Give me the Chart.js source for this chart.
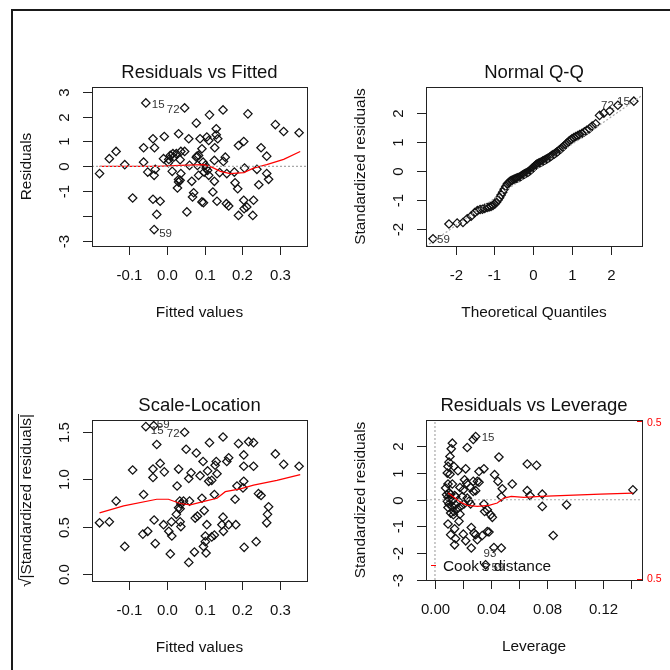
<!DOCTYPE html>
<html>
<head>
<meta charset="utf-8">
<script src="https://cdn.jsdelivr.net/npm/chart.js@4.4.1/dist/chart.umd.min.js"></script>
<style>
  html, body { margin: 0; padding: 0; background: #fff; }
  #page { position: relative; width: 670px; height: 670px; overflow: hidden; background: #fff; }
  #page canvas { position: absolute; left: 0; top: 0; }
  #frame { position: absolute; left: 11px; top: 9px; width: 720px; height: 720px;
           border-top: 2px solid #1a1a1a; border-left: 2px solid #1a1a1a; }
</style>
</head>
<body>
<div id="page">
  <div id="frame"></div>
  <canvas id="p1" width="670" height="670"></canvas>
  <canvas id="p2" width="670" height="670"></canvas>
  <canvas id="p3" width="670" height="670"></canvas>
  <canvas id="p4" width="670" height="670"></canvas>
</div>
<script>
// ---- Residuals vs Fitted ----
const fittedX = [-0.179,-0.153,-0.135,-0.112,-0.091,-0.062,-0.062,-0.056,-0.051,-0.037,-0.033,-0.031,-0.034,-0.037,-0.027,-0.018,-0.034,-0.007,-0.009,0.005,
  0.009,0.014,0.004,0.016,0.025,0.031,0.037,0.035,0.037,0.035,0.031,0.028,0.047,0.047,0.058,0.053,0.060,0.066,0.068,0.071,
  0.078,0.078,0.084,0.081,0.084,0.088,0.093,0.093,0.097,0.096,0.099,0.104,0.102,0.106,0.111,0.113,0.108,0.111,0.122,0.126,
  0.127,0.126,0.131,0.131,0.135,0.133,0.140,0.149,0.155,0.150,0.159,0.158,0.164,0.179,0.181,0.188,0.190,0.190,0.204,0.204,
  0.205,0.206,0.215,0.212,0.228,0.230,0.239,0.244,0.250,0.265,0.265,0.270,0.288,0.310,0.351,0.018,0.080,0.031];
const residY = [-0.29,0.31,0.60,0.07,-1.27,0.75,0.17,2.55,-0.23,1.11,0.75,-0.12,-0.36,-1.32,-1.93,-1.40,-2.54,1.20,0.31,0.28,
  0.44,-0.20,0.15,0.51,0.51,1.31,0.60,0.27,-0.29,-0.56,-0.63,-0.87,2.35,0.60,1.11,-1.83,0.04,-0.60,-1.23,-1.06,
  1.74,0.37,0.44,0.04,-0.36,1.11,0.71,-1.43,-1.46,0.17,-0.23,-0.07,0.04,1.18,1.04,2.07,-0.16,-0.36,-1.03,-0.60,
  0.75,0.24,1.51,1.27,1.11,-1.40,-0.25,2.27,0.37,0.20,-0.29,-1.50,-1.59,-0.23,-0.66,-0.90,0.84,-1.97,1.00,-1.36,
  -1.70,-0.07,2.11,-1.63,-1.97,-1.36,-0.12,-0.74,0.75,0.41,-0.29,-0.52,1.68,1.40,1.35,0.37,0.41,-0.53];
const rfSmoothX = [-0.179,-0.115,-0.027,0.035,0.097,0.119,0.142,0.168,0.204,0.230,0.265,0.310,0.354];
const rfSmoothY = [0,0,0,0.04,0.07,-0.03,-0.20,-0.29,-0.25,-0.07,0.07,0.28,0.60];

// ---- Normal Q-Q ----
const qqTheo = [-2.58,-2.17,-1.96,-1.81,-1.70,-1.60,-1.51,-1.44,-1.37,-1.31,-1.25,-1.19,-1.14,-1.09,-1.04,-0.99,-0.95,-0.91,-0.87,-0.83,
  -0.79,-0.75,-0.71,-0.67,-0.64,-0.60,-0.57,-0.54,-0.50,-0.47,-0.44,-0.41,-0.37,-0.34,-0.31,-0.28,-0.25,-0.23,-0.20,-0.17,
  -0.14,-0.11,-0.08,-0.06,-0.04,-0.01,0.01,0.04,0.06,0.08,0.11,0.14,0.17,0.20,0.23,0.25,0.28,0.31,0.34,0.37,
  0.41,0.44,0.47,0.50,0.54,0.57,0.60,0.64,0.67,0.71,0.75,0.79,0.83,0.87,0.91,0.95,0.99,1.04,1.09,1.14,
  1.19,1.25,1.31,1.37,1.44,1.51,1.60,1.70,1.81,1.96,2.17,2.58];
const qqStd = [-2.33,-1.82,-1.79,-1.77,-1.64,-1.55,-1.43,-1.36,-1.32,-1.31,-1.28,-1.25,-1.23,-1.21,-1.18,-1.13,-1.07,-0.99,-0.91,-0.82,
  -0.72,-0.62,-0.52,-0.44,-0.39,-0.35,-0.32,-0.30,-0.28,-0.26,-0.24,-0.23,-0.21,-0.19,-0.16,-0.13,-0.11,-0.09,-0.07,-0.05,
  -0.03,0.00,0.03,0.06,0.09,0.12,0.15,0.18,0.21,0.24,0.26,0.28,0.30,0.32,0.34,0.36,0.38,0.40,0.42,0.45,
  0.48,0.51,0.54,0.57,0.60,0.63,0.66,0.70,0.74,0.78,0.83,0.88,0.93,0.98,1.03,1.08,1.12,1.16,1.20,1.23,
  1.27,1.31,1.36,1.41,1.47,1.56,1.64,1.93,2.01,2.08,2.28,2.42];
const qqLineX = [-2.76, 2.79];
const qqLineY = [-2.59, 2.62];

// ---- Scale-Location ----
const slFitted = [-0.179,-0.153,-0.135,-0.112,-0.091,-0.062,-0.064,-0.056,-0.035,-0.051,-0.037,-0.037,-0.027,-0.018,-0.007,-0.034,-0.031,-0.009,0.005,0.009,
  0.013,0.012,0.025,0.027,0.031,0.034,0.037,0.035,0.035,0.037,0.047,0.044,0.051,0.058,0.064,0.058,0.060,0.073,0.078,0.075,
  0.081,0.088,0.093,0.096,0.099,0.097,0.102,0.104,0.106,0.108,0.113,0.111,0.119,0.126,0.128,0.131,0.126,0.133,0.149,0.149,
  0.150,0.159,0.164,0.164,0.146,0.183,0.181,0.186,0.190,0.204,0.204,0.204,0.205,0.202,0.217,0.230,0.230,0.237,0.243,0.250,
  0.270,0.267,0.265,0.288,0.310,0.351,0.102,0.119,0.031];
const slSqrt = [0.54,0.55,0.77,0.29,1.10,0.84,0.42,1.56,1.57,0.45,1.11,1.02,1.37,1.17,1.08,0.57,0.32,0.52,0.45,0.21,
  0.40,0.55,0.63,0.93,1.11,0.77,0.74,0.69,0.55,0.50,1.50,0.77,1.32,1.01,1.07,0.12,0.77,0.23,1.28,0.59,
  0.61,1.04,0.80,1.19,0.67,0.29,0.40,0.22,0.52,1.09,1.39,0.98,0.99,0.84,1.15,1.19,0.41,1.06,1.45,0.60,
  0.45,1.19,1.23,0.52,0.52,0.52,0.79,0.93,1.38,1.26,1.14,0.98,0.28,0.91,1.40,1.39,1.14,0.34,0.85,0.83,
  0.71,0.63,0.54,1.27,1.16,1.14,0.34,0.39,0.70];
const slSmoothX = [-0.179,-0.115,-0.027,0.004,0.035,0.062,0.101,0.133,0.155,0.195,0.230,0.292,0.354];
const slSmoothY = [0.645,0.72,0.79,0.79,0.745,0.73,0.77,0.80,0.87,0.90,0.94,0.99,1.05];

// ---- Residuals vs Leverage ----
const levX = [0.0124,0.0116,0.0107,0.0100,0.0093,0.0088,0.0107,0.0135,0.0164,0.0093,0.0124,0.0083,0.0093,0.0112,0.0107,0.0124,0.0140,0.0088,0.0100,0.0093,
  0.0124,0.0147,0.0159,0.0135,0.0112,0.0178,0.0171,0.0093,0.0140,0.0112,0.0147,0.0140,0.0202,0.0219,0.0178,0.0211,0.0219,0.0226,0.0202,0.0230,
  0.0254,0.0273,0.0273,0.0290,0.0242,0.0230,0.0254,0.0273,0.0290,0.0302,0.0314,0.0259,0.0278,0.0290,0.0302,0.0259,0.0314,0.0349,0.0337,0.0373,
  0.0385,0.0361,0.0349,0.0354,0.0373,0.0397,0.0409,0.0420,0.0473,0.0425,0.0449,0.0456,0.0480,0.0473,0.0551,0.0658,0.0724,0.0658,0.0677,0.0765,
  0.0765,0.0843,0.0938,0.1411,0.0076,0.0100,0.0147,0.0131,0.0183,0.0207,0.0195];
const levStd = [2.12,1.91,1.62,1.41,1.25,1.00,0.96,1.25,1.09,0.59,0.59,0.19,0.09,0.21,0.06,-0.04,0.16,-0.06,-0.16,-0.29,
  -0.25,-0.19,-0.34,-0.44,-0.50,-0.54,-0.81,-0.91,-1.09,-1.31,-1.46,-1.69,-1.29,-1.54,0.46,0.75,1.16,0.62,0.37,1.96,
  0.46,0.69,2.26,2.37,-0.06,0.06,-0.16,0.31,0.34,0.69,0.66,-1.04,-1.25,-1.31,-1.50,-1.81,1.06,1.16,-1.34,-1.19,
  -1.21,-2.44,-0.16,-0.44,-0.38,-0.56,-0.66,-1.79,-1.81,0.94,0.69,1.60,0.41,0.11,0.59,1.34,1.29,0.34,0.16,0.21,
  -0.25,-1.34,-0.19,0.37,0.44,0.25,0.12,-0.56,-0.25,-0.16,0.12];
const levSmoothX = [0.0093,0.0135,0.0183,0.0230,0.0302,0.0385,0.0444,0.0492,0.0544,0.0634,0.0753,0.0943,0.118,0.1411];
const levSmoothY = [0.25,0.09,-0.09,-0.21,-0.25,-0.21,-0.125,0.06,0.125,0.09,0.125,0.16,0.21,0.25];

// ---- axes ----
const fitTicks = [-0.1, 0, 0.1, 0.2, 0.3];
const fitLabels = ['-0.1', '0.0', '0.1', '0.2', '0.3'];
const residTicks = [-3, -2, -1, 0, 1, 2, 3];
const residLabels = ['-3', '', '-1', '0', '1', '2', '3'];
const qqTicks = [-2, -1, 0, 1, 2];
const qqLabels = ['-2', '-1', '0', '1', '2'];
const slTicks = [0, 0.5, 1, 1.5];
const slLabels = ['0.0', '0.5', '1.0', '1.5'];
const levTicks = [0, 0.02, 0.04, 0.06, 0.08, 0.10, 0.12, 0.14];
const levLabels = ['0.00', '', '0.04', '', '0.08', '', '0.12', ''];
const levYTicks = [-3, -2, -1, 0, 1, 2];
const levYLabels = ['-3', '-2', '-1', '0', '1', '2'];

const fitRange = [-0.199, 0.372];
const residRange = [-3.20, 3.19];
const qqXRange = [-2.76, 2.79];
const qqYRange = [-2.58, 2.91];
const slRange = [-0.077, 1.63];
const levRange = [-0.0064, 0.1476];
const levYRange = [-3.01, 2.99];

// id labels: text, anchor x, anchor y, dx, dy, align
const rfIds = [['15', -0.056, 2.55, 6, 2, 'left'], ['72', 0.047, 2.35, -5, 2, 'right'], ['59', -0.034, -2.54, 5, 4, 'left']];
const qqIds = [['59', -2.58, -2.33, 4, 1, 'left'], ['72', 2.17, 2.28, -4, 1, 'right'], ['15', 2.58, 2.42, -4, 1, 'right']];
const slIds = [['59', -0.035, 1.57, 3, -1, 'left'], ['15', -0.056, 1.56, 5, 4, 'left'], ['72', 0.047, 1.50, -5, 2, 'right']];
const levIds = [['15', 0.0290, 2.37, 6, 1, 'left'], ['93', 0.0420, -1.79, -4, 6, 'center'], ['59', 0.0361, -2.44, 6, 3, 'left']];

const FONT = '"Liberation Sans", Arial, sans-serif';
const INK = '#111';

const rPanel = {
  id: 'rPanel',
  afterDraw(chart, args, o) {
    const ctx = chart.ctx, a = chart.chartArea;
    const xs = chart.scales.x, ys = chart.scales.y;
    const cx = (a.left + a.right) / 2, cy = (a.top + a.bottom) / 2;
    ctx.save();
    ctx.strokeStyle = '#222';
    ctx.lineWidth = 1;
    ctx.strokeRect(a.left + 0.5, a.top + 0.5, a.right - a.left, a.bottom - a.top);
    ctx.fillStyle = INK;
    ctx.textAlign = 'center';
    ctx.textBaseline = 'middle';
    ctx.font = '15px ' + FONT;
    o.xTicks.forEach((v, i) => {
      const px = Math.round(xs.getPixelForValue(v)) + 0.5;
      ctx.beginPath(); ctx.moveTo(px, a.bottom); ctx.lineTo(px, a.bottom + 9); ctx.stroke();
      if (o.xLabels[i]) ctx.fillText(o.xLabels[i], px, a.bottom + 30);
    });
    o.yTicks.forEach((v, i) => {
      const py = Math.round(ys.getPixelForValue(v)) + 0.5;
      ctx.beginPath(); ctx.moveTo(a.left, py); ctx.lineTo(a.left - 9, py); ctx.stroke();
      if (o.yLabels[i]) {
        ctx.save();
        ctx.translate(a.left - 27, py);
        ctx.rotate(-Math.PI / 2);
        ctx.fillText(o.yLabels[i], 0, 0);
        ctx.restore();
      }
    });
    ctx.font = '18.5px ' + FONT;
    ctx.fillText(o.title, cx, a.top - 14);
    ctx.font = '15.4px ' + FONT;
    ctx.fillText(o.xTitle, cx, a.bottom + 67);
    ctx.save();
    ctx.translate(a.left - 65, cy);
    ctx.rotate(-Math.PI / 2);
    if (o.sqrt) {
      const w = ctx.measureText(o.yTitle).width;
      const ws = ctx.measureText('\u221A').width;
      const x0 = -(w + ws) / 2;
      ctx.textAlign = 'left';
      ctx.fillText('\u221A', x0, 0);
      ctx.fillText(o.yTitle, x0 + ws, 0);
      ctx.beginPath();
      ctx.moveTo(x0 + ws - 1, -8.5);
      ctx.lineTo(x0 + ws + w, -8.5);
      ctx.stroke();
    } else {
      ctx.fillText(o.yTitle, 0, 0);
    }
    ctx.restore();
    // point ids
    ctx.font = '11.5px ' + FONT;
    ctx.fillStyle = '#333';
    o.ids.forEach(d => {
      ctx.textAlign = d[5];
      ctx.fillText(d[0], xs.getPixelForValue(d[1]) + d[3], ys.getPixelForValue(d[2]) + d[4]);
    });
    if (o.cook) {
      ctx.strokeStyle = '#ff0000';
      ctx.beginPath();
      ctx.moveTo(a.right - 5, a.top + 1.5); ctx.lineTo(a.right, a.top + 1.5);
      ctx.moveTo(a.right - 5, a.bottom - 0.5); ctx.lineTo(a.right, a.bottom - 0.5);
      ctx.moveTo(a.left + 5, a.bottom - 14.5); ctx.lineTo(a.left + 10, a.bottom - 14.5);
      ctx.stroke();
      ctx.fillStyle = '#ff0000';
      ctx.font = '10.5px ' + FONT;
      ctx.textAlign = 'left';
      ctx.fillText('0.5', a.right + 5, a.top + 3);
      ctx.fillText('0.5', a.right + 5, a.bottom - 1);
      ctx.fillStyle = INK;
      ctx.font = '15.4px ' + FONT;
      ctx.fillText("Cook's distance", a.left + 17, a.bottom - 13);
    }
    ctx.restore();
  }
};

function pts(xv, yv) { return xv.map((x, i) => ({ x: x, y: yv[i] })); }

function pointSet(xv, yv) {
  return { data: pts(xv, yv), showLine: false, pointStyle: 'rectRot', pointRadius: 4.2,
           borderColor: '#111', borderWidth: 1.25, backgroundColor: 'rgba(0,0,0,0)' };
}
function lineSet(xv, yv, color, dash) {
  return { data: pts(xv, yv), showLine: true, pointRadius: 0, borderColor: color,
           borderWidth: 1.2, borderDash: dash, tension: 0, fill: false };
}

function makePanel(id, box, xr, yr, datasets, deco) {
  return new Chart(document.getElementById(id), {
    type: 'scatter',
    data: { datasets: datasets },
    options: {
      responsive: false, animation: false, devicePixelRatio: 1, events: [],
      layout: { padding: { left: box[0], top: box[1], right: 670 - box[2], bottom: 670 - box[3] } },
      scales: {
        x: { type: 'linear', display: false, min: xr[0], max: xr[1] },
        y: { type: 'linear', display: false, min: yr[0], max: yr[1] }
      },
      plugins: { legend: { display: false }, tooltip: { enabled: false }, rPanel: deco }
    },
    plugins: [rPanel]
  });
}

makePanel('p1', [92, 87, 307, 246], fitRange, residRange, [
  lineSet(fitRange, [0, 0], '#a8a8a8', [2, 2]),
  lineSet(rfSmoothX, rfSmoothY, '#ff0000', []),
  pointSet(fittedX, residY)
], { title: 'Residuals vs Fitted', xTitle: 'Fitted values', yTitle: 'Residuals',
     xTicks: fitTicks, xLabels: fitLabels, yTicks: residTicks, yLabels: residLabels, ids: rfIds });

makePanel('p2', [426, 87, 642, 246], qqXRange, qqYRange, [
  lineSet(qqLineX, qqLineY, '#a8a8a8', [2, 2]),
  pointSet(qqTheo, qqStd)
], { title: 'Normal Q-Q', xTitle: 'Theoretical Quantiles', yTitle: 'Standardized residuals',
     xTicks: qqTicks, xLabels: qqLabels, yTicks: qqTicks, yLabels: qqLabels, ids: qqIds });

makePanel('p3', [92, 420, 307, 581], fitRange, slRange, [
  lineSet(slSmoothX, slSmoothY, '#ff0000', []),
  pointSet(slFitted, slSqrt)
], { title: 'Scale-Location', xTitle: 'Fitted values', yTitle: '|Standardized residuals|', sqrt: true,
     xTicks: fitTicks, xLabels: fitLabels, yTicks: slTicks, yLabels: slLabels, ids: slIds });

makePanel('p4', [426, 420, 642, 580], levRange, levYRange, [
  lineSet(levRange, [0, 0], '#a8a8a8', [2, 2]),
  lineSet([0, 0], levYRange, '#a8a8a8', [2, 2]),
  lineSet(levSmoothX, levSmoothY, '#ff0000', []),
  pointSet(levX, levStd)
], { title: 'Residuals vs Leverage', xTitle: 'Leverage', yTitle: 'Standardized residuals', cook: true,
     xTicks: levTicks, xLabels: levLabels, yTicks: levYTicks, yLabels: levYLabels, ids: levIds });
</script>
</body>
</html>
